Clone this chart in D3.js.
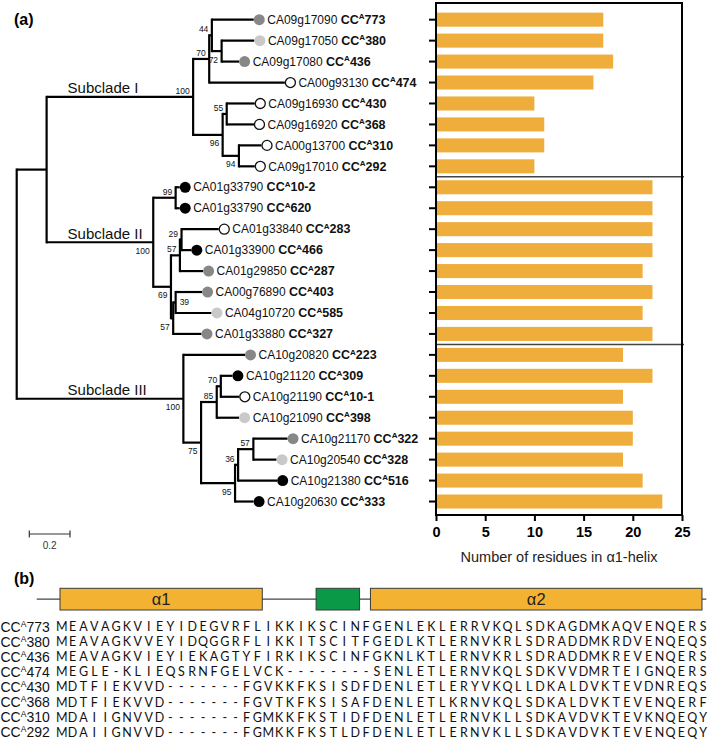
<!DOCTYPE html>
<html><head><meta charset="utf-8">
<script src="https://cdn.jsdelivr.net/npm/d3@7"></script>
<style>body{margin:0;background:#fff}svg{display:block}text{font-family:"Liberation Sans",Arial,sans-serif}</style>
</head><body>
<script>
// ---------------- data ----------------
const geneIds = ["CA09g17090","CA09g17050","CA09g17080","CA00g93130","CA09g16930","CA09g16920","CA00g13700","CA09g17010",
  "CA01g33790","CA01g33790","CA01g33840","CA01g33900","CA01g29850","CA00g76890","CA04g10720","CA01g33880",
  "CA10g20820","CA10g21120","CA10g21190","CA10g21090","CA10g21170","CA10g20540","CA10g21380","CA10g20630"];
const leafNames = ["773","380","436","474","430","368","310","292","10-2","620","283","466","287","403","585","327",
  "223","309","10-1","398","322","328","516","333"];
const circleClass = ["dark","light","dark","open","open","open","open","open","black","black","open","black","dark","dark","light","dark",
  "dark","black","open","light","dark","light","black","black"];
const helixResidues = [17,17,18,16,10,11,11,10, 22,22,22,22,21,22,21,22, 19,22,19,20,20,19,21,23];
const treeNewick = "(((((773:0.206,(380:0.161,436:0.086)72:0.048)44:0.013,474:0.372)70:0.079,((430:0.138,368:0.134)55:0.020,(310:0.111,292:0.078)94:0.080)96:0.145)100:0.720,((10-2:0.020,620:0.020)99:0.110,(((283:0.183,466:0.048)29:0.008,287:0.114)57:0.044,((403:0.130,585:0.176)39:0.012,327:0.139)57:0.011)69:0.087)100:0.524):0.147,(223:0.303,(((309:0.057,10-1:0.091)70:0.020,398:0.110)85:0.077,(((322:0.168,328:0.114)57:0.075,516:0.192)36:0.015,333:0.091)95:0.167)75:0.087)100:0.819);";
const subcladeLabels = ["Subclade I","Subclade II","Subclade III"];
const xTicks = [0,5,10,15,20,25];
const scaleBarValue = 0.2;
const seqNames = ["773","380","436","474","430","368","310","292"];
const sequences = [
  "MEAVAGKVIEYIDEGVRFLIKKIKSCINFGENLEKLERRVKQLSDKAGDMKAQVENQERS",
  "MEAVAGKVVEYIDQGGRFLIKKITSCITFGEDLKTLERNVKRLSDRADDMKRDVENQEQS",
  "MEAVAGKVIEYIEKAGTYFIRKIKSCINFGKNLKTLERNVKRLSDRADDMKREVENQERS",
  "MEGLE-KLIEQSRNFGELVCK--------SENLETLERNVKQLSDKVVDMRTEIGNQERS",
  "MDTFIEKVVD-------FGVKKFKSISDFDENLETLERYVKQLLDKALDVKTEVDNREQS",
  "MDTFIEKVVD-------FGVTKFKSISAFDENLETLKRNVKQLSDKALDVKTEVENQERF",
  "MDAIIGNVVD-------FGMKKFKSTIDFDENLETLERNVKLLSDKAVDVKTEVKNQEQY",
  "MDAIIGNVVD-------FGMKKFKSTLDFDENLETLERNVKLLSDKAVDVKTEVENQEQY"];
const domainNames = ["α1","","α2"];
const domainStart = [0.34, 23.9, 28.9];
const domainEnd = [18.95, 27.9, 59.4];
const domainType = ["helix","motif","helix"];
const domainLine = [-1.8, 59.8];

// ---------------- setup ----------------
const W = 709, H = 744;
const svg = d3.select("body").append("svg").attr("width", W).attr("height", H);

function parseNewick(s){
  let i = 0;
  function node(){
    const n = {children: []};
    if (s[i] === "(") {
      i++; n.children.push(node());
      while (s[i] === ",") { i++; n.children.push(node()); }
      i++;
    }
    let name = "";
    while (i < s.length && !",():;".includes(s[i])) name += s[i++];
    n.name = name;
    n.length = 0;
    if (s[i] === ":") { i++; let num = ""; while (i < s.length && !",();".includes(s[i])) num += s[i++]; n.length = +num; }
    if (!n.children.length) delete n.children;
    return n;
  }
  return node();
}

const yBand = d3.scaleBand().domain(d3.range(leafNames.length)).range([9.2, 512]).paddingInner(0.33).paddingOuter(0.165);
const yC = i => yBand(i) + yBand.bandwidth() / 2;
const xTree = d3.scaleLinear().domain([0, 1]).range([16.7, 220.2]);

// ---------------- tree ----------------
const root = d3.hierarchy(parseNewick(treeNewick));
root.eachBefore(d => { d.dist = d.parent ? d.parent.dist + d.data.length : 0; });
root.leaves().forEach(l => { l.idx = leafNames.indexOf(l.data.name); l.py = yC(l.idx); });
root.eachAfter(d => { if (d.children) d.py = (d.children[0].py + d.children[d.children.length - 1].py) / 2; });

const gt = svg.append("g").attr("stroke", "#000").attr("stroke-width", 2.2).attr("fill", "none").attr("stroke-linecap", "square");
root.descendants().forEach(d => {
  const x = xTree(d.dist);
  if (d.children) {
    gt.append("line").attr("x1", x).attr("x2", x)
      .attr("y1", d.children[0].py).attr("y2", d.children[d.children.length - 1].py);
  }
  if (d.parent) {
    gt.append("line").attr("x1", xTree(d.parent.dist)).attr("x2", x).attr("y1", d.py).attr("y2", d.py)
      .attr("stroke-linecap", "butt");
  }
});

// bootstrap labels
root.descendants().filter(d => d.children && d.parent && d.data.name).forEach(d => {
  const upper = d.parent.children[0] === d;
  const x = xTree(d.dist);
  const t = svg.append("text").style("font-size", "8.5px").attr("fill", "#111").text(d.data.name);
  if (d.data.name === "39") {
    t.attr("x", x + 4).attr("y", d.py + 2.5).attr("text-anchor", "start");
  } else {
    t.attr("x", x - 3.5).attr("y", upper ? d.py - 3 : d.py + 11.5).attr("text-anchor", "end");
  }
});

// subclade labels
root.descendants().filter(d => d.data.name === "100").sort((a, b) => a.py - b.py).forEach((d, k) => {
  svg.append("text").attr("x", xTree(0.25)).attr("y", d.py - 3.5).style("font-size", "15px").attr("fill", "#111").text(subcladeLabels[k]);
});

// leaf markers + labels
const fills = {dark: "#878787", light: "#c9c9c9", black: "#000", open: "#fff"};
root.leaves().forEach(l => {
  const i = l.idx, tip = xTree(l.dist), y = l.py;
  svg.append("circle").attr("cx", tip + 5.5).attr("cy", y).attr("r", circleClass[i] === "open" ? 5 : 5.5)
    .attr("fill", fills[circleClass[i]])
    .attr("stroke", circleClass[i] === "open" ? "#111" : "none").attr("stroke-width", 1.3);
  const t = svg.append("text").attr("x", tip + 13.5).attr("y", y + 4.2).style("font-size", "12px").attr("fill", "#111");
  t.append("tspan").text(geneIds[i] + " ");
  t.append("tspan").attr("font-weight", "bold").style("font-size", "12.5px").text("CC");
  t.append("tspan").attr("font-weight", "bold").style("font-size", "8px").attr("dy", -4.5).text("A");
  t.append("tspan").attr("font-weight", "bold").style("font-size", "12.5px").attr("dy", 4.5).text(leafNames[i]);
});

// scale bar
const sb = svg.append("g").attr("stroke", "#333").attr("stroke-width", 1.2);
const sbx0 = 29.3, sbx1 = sbx0 + (xTree(scaleBarValue) - xTree(0)), sby = 534;
sb.append("line").attr("x1", sbx0).attr("x2", sbx1).attr("y1", sby).attr("y2", sby);
sb.append("line").attr("x1", sbx0).attr("x2", sbx0).attr("y1", sby - 3.5).attr("y2", sby + 3.5);
sb.append("line").attr("x1", sbx1).attr("x2", sbx1).attr("y1", sby - 3.5).attr("y2", sby + 3.5);
svg.append("text").attr("x", (sbx0 + sbx1) / 2).attr("y", 549).attr("text-anchor", "middle").style("font-size", "10px").attr("fill", "#333").text(String(scaleBarValue));

svg.append("text").attr("x", 14).attr("y", 25).style("font-size", "16px").attr("font-weight", "bold").text("(a)");
svg.append("text").attr("x", 14).attr("y", 584).style("font-size", "16px").attr("font-weight", "bold").text("(b)");

// ---------------- bar chart ----------------
const xBar = d3.scaleLinear().domain([0, 25]).range([436, 682]);
const frameTop = 3, frameBottom = 515;
svg.append("g").selectAll("rect").data(helixResidues).join("rect")
  .attr("x", xBar(0) + 1).attr("y", (d, i) => yBand(i))
  .attr("width", d => xBar(d) - xBar(0) - 1).attr("height", yBand.bandwidth())
  .attr("fill", "#efad3b");

[8, 16].forEach(k => {
  const yy = (yC(k - 1) + yC(k)) / 2;
  svg.append("line").attr("x1", xBar(0)).attr("x2", xBar(25) + 2).attr("y1", yy).attr("y2", yy)
    .attr("stroke", "#444").attr("stroke-width", 1.5);
});

svg.append("rect").attr("x", xBar(0)).attr("y", frameTop).attr("width", xBar(25) - xBar(0)).attr("height", frameBottom - frameTop)
  .attr("fill", "none").attr("stroke", "#000").attr("stroke-width", 2);

const yAx = svg.append("g").attr("transform", `translate(${xBar(0)},0)`)
  .call(d3.axisLeft(yBand).tickSize(7).tickSizeOuter(0).tickFormat(""));
yAx.select(".domain").remove();
yAx.selectAll("line").attr("stroke", "#000").attr("stroke-width", 2);

const xAx = svg.append("g").attr("transform", `translate(0,${frameBottom})`)
  .call(d3.axisBottom(xBar).tickValues(xTicks).tickSize(6).tickSizeOuter(0).tickPadding(6));
xAx.select(".domain").remove();
xAx.selectAll("line").attr("stroke", "#000").attr("stroke-width", 2);
xAx.selectAll("text").style("font-size", "14.5px").attr("font-weight", "bold").attr("fill", "#000")
  .style("font-family", "'Liberation Sans', Arial, sans-serif");

svg.append("text").attr("x", (xBar(0) + xBar(25)) / 2).attr("y", 561.5).attr("text-anchor", "middle")
  .style("font-size", "14.5px").attr("fill", "#222").text("Number of residues in α1-helix");

// ---------------- panel b ----------------
const xCol = d3.scaleLinear().domain([0, 60]).range([56.3, 708.5]);
const domY = 588.3, domH = 21.7;
svg.append("line").attr("x1", xCol(domainLine[0])).attr("x2", xCol(domainLine[1]))
  .attr("y1", domY + domH / 2).attr("y2", domY + domH / 2).attr("stroke", "#444").attr("stroke-width", 1.3);
domainNames.forEach((n, k) => {
  svg.append("rect").attr("x", xCol(domainStart[k])).attr("y", domY)
    .attr("width", xCol(domainEnd[k]) - xCol(domainStart[k])).attr("height", domH)
    .attr("fill", domainType[k] === "helix" ? "#f4b233" : "#0a9a47").attr("stroke", "#3a3a3a").attr("stroke-width", 1);
  if (n) svg.append("text").attr("x", (xCol(domainStart[k]) + xCol(domainEnd[k])) / 2).attr("y", domY + 16.5)
    .attr("text-anchor", "middle").style("font-size", "16.5px").attr("fill", "#222").text(n);
});

sequences.forEach((s, r) => {
  const yy = 626.5 + r * 15.1;
  const t = svg.append("text").attr("x", 0.5).attr("y", yy + 5).style("font-size", "14px").attr("fill", "#111");
  t.append("tspan").text("CC");
  t.append("tspan").style("font-size", "8.5px").attr("dy", -5).text("A");
  t.append("tspan").attr("dy", 5).text(seqNames[r]);
  svg.append("g").selectAll("text").data(s.split("")).join("text")
    .attr("x", (c, i) => xCol(i + 0.5)).attr("y", yy + 4.5).attr("text-anchor", "middle")
    .style("font-family", "Lato, 'Open Sans', sans-serif").style("font-size", "12.5px").attr("fill", "#111")
    .text(c => c);
});
</script>
</body></html>
